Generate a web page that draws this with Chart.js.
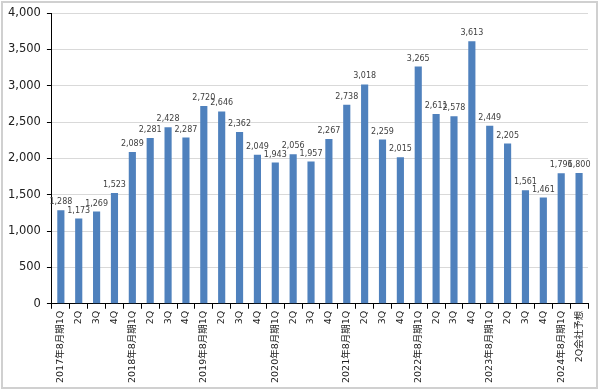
<!DOCTYPE html>
<html>
<head>
<meta charset="utf-8">
<script src="https://cdn.jsdelivr.net/npm/chart.js@4"></script>
<style>
  body { margin: 0; background: #fff; }
  #wrap { width: 600px; height: 391px; }
</style>
</head>
<body>
<div id="wrap"><canvas id="sales" width="600" height="391"></canvas></div>
<script>
var labels = [
  "2017年8月期1Q", "2Q", "3Q", "4Q",
  "2018年8月期1Q", "2Q", "3Q", "4Q",
  "2019年8月期1Q", "2Q", "3Q", "4Q",
  "2020年8月期1Q", "2Q", "3Q", "4Q",
  "2021年8月期1Q", "2Q", "3Q", "4Q",
  "2022年8月期1Q", "2Q", "3Q", "4Q",
  "2023年8月期1Q", "2Q", "3Q", "4Q",
  "2024年8月期1Q", "2Q会社予想",
];
var values = [
  1288, 1173, 1269, 1523,
  2089, 2281, 2428, 2287,
  2720, 2646, 2362, 2049,
  1943, 2056, 1957, 2267,
  2738, 3018, 2259, 2015,
  3265, 2611, 2578, 3613,
  2449, 2205, 1561, 1461,
  1796, 1800,
];
var yMax = 4000;
var yStep = 500;

var fontFamily = "'DejaVu Sans', 'Noto Sans CJK JP', sans-serif";

// values above each bar
var valueLabels = {
  id: "valueLabels",
  afterDatasetsDraw: function (chart) {
    var c = chart.ctx;
    var meta = chart.getDatasetMeta(0);
    c.save();
    c.font = "8px " + fontFamily;
    c.fillStyle = "#404040";
    c.textAlign = "center";
    c.textBaseline = "bottom";
    meta.data.forEach(function (bar, i) {
      c.fillText(values[i].toLocaleString("en-US"), bar.x, bar.y - 4);
    });
    c.restore();
  },
};

// outer frame
var frame = {
  id: "frame",
  afterDraw: function (chart) {
    var c = chart.ctx;
    c.save();
    c.strokeStyle = "#d0d0d0";
    c.lineWidth = 2;
    c.strokeRect(2, 2, chart.width - 5, chart.height - 5);
    c.restore();
  },
};

var ctx = document.getElementById("sales").getContext("2d");
var myChart = new Chart(ctx, {
  type: "bar",
  data: {
    labels: labels,
    datasets: [
      {
        data: values,
        backgroundColor: "#4F81BD",
        borderWidth: 0,
        barPercentage: 0.4,
        categoryPercentage: 1,
      },
    ],
  },
  options: {
    responsive: false,
    animation: false,
    locale: "en-US",
    layout: {
      padding: { left: 2, top: 13, right: 12, bottom: 6 },
    },
    scales: {
      x: {
        grid: {
          display: true,
          drawOnChartArea: false,
          drawTicks: true,
          tickLength: 5,
          color: "#000",
        },
        border: { display: true, color: "#000" },
        ticks: {
          autoSkip: false,
          maxRotation: 90,
          minRotation: 90,
          padding: 2,
          color: "#202020",
          font: { family: fontFamily, size: 9.5 },
        },
      },
      y: {
        min: 0,
        max: yMax,
        grid: {
          color: "#d9d9d9",
          tickColor: "#000",
          tickLength: 5,
        },
        border: { display: true, color: "#000" },
        ticks: {
          stepSize: yStep,
          padding: 6,
          color: "#202020",
          font: { family: fontFamily, size: 11.5 },
        },
      },
    },
    plugins: {
      legend: { display: false },
      tooltip: { enabled: false },
    },
  },
  plugins: [valueLabels, frame],
});
</script>
</body>
</html>
